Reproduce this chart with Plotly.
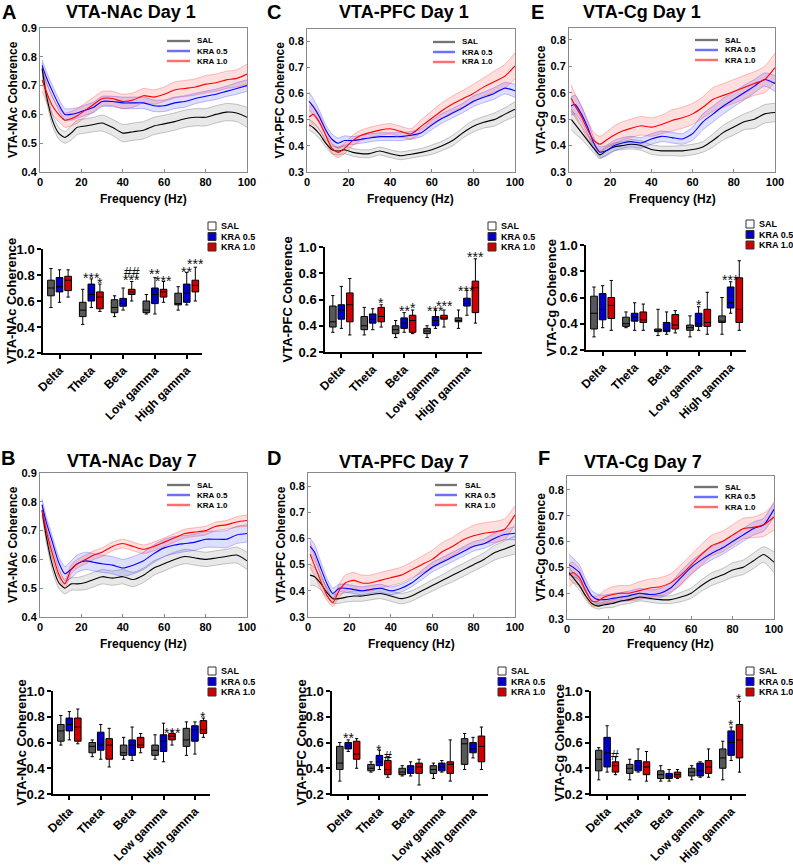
import plotly.graph_objects as go

W, H = 793, 866
FONT = "Arial, Liberation Sans, Helvetica, sans-serif"

# ---------------- data ----------------
SERIES = ["SAL", "KRA 0.5", "KRA 1.0"]
BANDS = ["Delta", "Theta", "Beta", "Low gamma", "High gamma"]
FREQ = [1, 3, 6, 9, 12, 15, 18, 22, 26, 30, 35, 40, 45, 50, 55, 60, 65, 70, 75, 80, 85, 90, 95, 100]
FREQ_TICKS = [0, 20, 40, 60, 80, 100]

# Panel A: VTA-NAc Day 1 (mean, SEM)
A_SAL = [0.76, 0.67, 0.58, 0.535, 0.52, 0.535, 0.555, 0.56, 0.565, 0.57, 0.555, 0.535, 0.54, 0.545, 0.56, 0.567, 0.575, 0.585, 0.59, 0.59, 0.60, 0.608, 0.605, 0.59]
A_SAL_SEM = [0.02, 0.02, 0.02, 0.02, 0.02, 0.025, 0.025, 0.025, 0.025, 0.028, 0.028, 0.03, 0.03, 0.03, 0.03, 0.03, 0.03, 0.03, 0.03, 0.03, 0.03, 0.03, 0.03, 0.035]
A_K05 = [0.77, 0.73, 0.68, 0.635, 0.60, 0.60, 0.605, 0.615, 0.625, 0.645, 0.645, 0.64, 0.64, 0.64, 0.63, 0.63, 0.64, 0.645, 0.655, 0.663, 0.67, 0.68, 0.69, 0.70]
A_K05_SEM = [0.02, 0.02, 0.02, 0.02, 0.02, 0.02, 0.018, 0.018, 0.018, 0.018, 0.018, 0.02, 0.02, 0.02, 0.02, 0.02, 0.02, 0.02, 0.018, 0.018, 0.018, 0.018, 0.02, 0.02]
A_K10 = [0.72, 0.68, 0.63, 0.60, 0.58, 0.585, 0.595, 0.615, 0.635, 0.655, 0.655, 0.645, 0.65, 0.665, 0.66, 0.67, 0.685, 0.69, 0.695, 0.705, 0.71, 0.72, 0.725, 0.74]
A_K10_SEM = [0.04, 0.035, 0.03, 0.025, 0.025, 0.025, 0.025, 0.025, 0.025, 0.025, 0.025, 0.025, 0.025, 0.025, 0.025, 0.025, 0.028, 0.028, 0.028, 0.03, 0.03, 0.03, 0.03, 0.035]

# Panel B: VTA-NAc Day 7
B_SAL = [0.77, 0.68, 0.58, 0.52, 0.50, 0.515, 0.515, 0.52, 0.53, 0.54, 0.535, 0.54, 0.53, 0.545, 0.57, 0.585, 0.60, 0.61, 0.605, 0.60, 0.605, 0.61, 0.615, 0.595]
B_SAL_SEM = [0.02, 0.02, 0.02, 0.02, 0.02, 0.022, 0.022, 0.025, 0.025, 0.025, 0.025, 0.025, 0.025, 0.025, 0.025, 0.025, 0.025, 0.025, 0.025, 0.025, 0.025, 0.025, 0.028, 0.03]
B_K05 = [0.79, 0.73, 0.66, 0.59, 0.55, 0.565, 0.585, 0.595, 0.59, 0.585, 0.58, 0.57, 0.58, 0.595, 0.62, 0.64, 0.65, 0.655, 0.66, 0.67, 0.67, 0.67, 0.685, 0.69]
B_K05_SEM = [0.02, 0.02, 0.02, 0.02, 0.025, 0.03, 0.03, 0.03, 0.03, 0.03, 0.03, 0.03, 0.03, 0.03, 0.03, 0.03, 0.03, 0.028, 0.028, 0.028, 0.028, 0.03, 0.03, 0.03]
B_K10 = [0.77, 0.70, 0.62, 0.55, 0.515, 0.565, 0.585, 0.60, 0.615, 0.625, 0.645, 0.655, 0.645, 0.635, 0.645, 0.66, 0.675, 0.69, 0.695, 0.70, 0.715, 0.72, 0.73, 0.735]
B_K10_SEM = [0.015, 0.015, 0.015, 0.015, 0.015, 0.015, 0.015, 0.015, 0.015, 0.015, 0.015, 0.015, 0.015, 0.015, 0.015, 0.015, 0.015, 0.015, 0.015, 0.015, 0.015, 0.015, 0.018, 0.02]

# Panel C: VTA-PFC Day 1
C_SAL = [0.48, 0.47, 0.445, 0.41, 0.385, 0.38, 0.385, 0.375, 0.37, 0.37, 0.38, 0.37, 0.362, 0.368, 0.375, 0.385, 0.40, 0.42, 0.45, 0.475, 0.49, 0.50, 0.52, 0.54]
C_SAL_SEM = [0.02, 0.02, 0.018, 0.015, 0.015, 0.015, 0.015, 0.015, 0.015, 0.015, 0.015, 0.015, 0.015, 0.015, 0.015, 0.018, 0.018, 0.02, 0.02, 0.022, 0.022, 0.025, 0.025, 0.028]
C_K05 = [0.57, 0.55, 0.51, 0.46, 0.425, 0.41, 0.42, 0.42, 0.425, 0.43, 0.435, 0.435, 0.435, 0.44, 0.45, 0.48, 0.505, 0.525, 0.545, 0.57, 0.585, 0.60, 0.62, 0.61]
C_K05_SEM = [0.035, 0.03, 0.025, 0.02, 0.02, 0.02, 0.018, 0.015, 0.015, 0.015, 0.015, 0.015, 0.015, 0.015, 0.015, 0.018, 0.018, 0.018, 0.018, 0.02, 0.02, 0.022, 0.022, 0.025]
C_K10 = [0.51, 0.52, 0.49, 0.44, 0.39, 0.375, 0.39, 0.42, 0.44, 0.45, 0.46, 0.465, 0.455, 0.445, 0.475, 0.505, 0.535, 0.56, 0.58, 0.60, 0.625, 0.645, 0.665, 0.705]
C_K10_SEM = [0.04, 0.035, 0.03, 0.025, 0.02, 0.02, 0.02, 0.02, 0.02, 0.02, 0.02, 0.02, 0.02, 0.02, 0.025, 0.028, 0.03, 0.03, 0.032, 0.035, 0.035, 0.04, 0.045, 0.05]

# Panel D: VTA-PFC Day 7
D_SAL = [0.46, 0.455, 0.43, 0.395, 0.37, 0.37, 0.375, 0.38, 0.38, 0.385, 0.39, 0.38, 0.37, 0.38, 0.40, 0.42, 0.44, 0.46, 0.48, 0.50, 0.52, 0.545, 0.56, 0.575]
D_SAL_SEM = [0.04, 0.035, 0.025, 0.02, 0.018, 0.018, 0.018, 0.02, 0.02, 0.02, 0.02, 0.02, 0.02, 0.02, 0.02, 0.022, 0.022, 0.025, 0.025, 0.025, 0.025, 0.028, 0.03, 0.035]
D_K05 = [0.57, 0.55, 0.49, 0.43, 0.39, 0.41, 0.41, 0.405, 0.40, 0.405, 0.41, 0.40, 0.41, 0.43, 0.46, 0.49, 0.51, 0.53, 0.55, 0.57, 0.58, 0.60, 0.615, 0.62]
D_K05_SEM = [0.03, 0.03, 0.025, 0.02, 0.02, 0.015, 0.015, 0.015, 0.015, 0.015, 0.015, 0.015, 0.015, 0.015, 0.018, 0.018, 0.018, 0.018, 0.018, 0.018, 0.018, 0.02, 0.02, 0.025]
D_K10 = [0.54, 0.50, 0.44, 0.385, 0.355, 0.40, 0.43, 0.44, 0.43, 0.43, 0.44, 0.45, 0.46, 0.48, 0.50, 0.52, 0.55, 0.57, 0.595, 0.61, 0.62, 0.625, 0.635, 0.69]
D_K10_SEM = [0.05, 0.04, 0.03, 0.02, 0.015, 0.025, 0.03, 0.03, 0.03, 0.03, 0.03, 0.03, 0.03, 0.03, 0.032, 0.035, 0.035, 0.035, 0.035, 0.04, 0.04, 0.04, 0.04, 0.035]

# Panel E: VTA-Cg Day 1
E_SAL = [0.50, 0.48, 0.45, 0.42, 0.39, 0.365, 0.38, 0.395, 0.40, 0.405, 0.40, 0.385, 0.38, 0.38, 0.38, 0.385, 0.395, 0.42, 0.45, 0.47, 0.49, 0.50, 0.52, 0.525]
E_SAL_SEM = [0.04, 0.035, 0.025, 0.02, 0.018, 0.015, 0.015, 0.015, 0.015, 0.018, 0.018, 0.018, 0.018, 0.018, 0.02, 0.02, 0.02, 0.025, 0.028, 0.03, 0.03, 0.035, 0.035, 0.035]
E_K05 = [0.55, 0.555, 0.52, 0.47, 0.41, 0.375, 0.38, 0.40, 0.41, 0.415, 0.41, 0.425, 0.435, 0.43, 0.425, 0.445, 0.49, 0.52, 0.55, 0.575, 0.60, 0.625, 0.65, 0.635]
E_K05_SEM = [0.035, 0.035, 0.03, 0.025, 0.02, 0.02, 0.02, 0.02, 0.02, 0.02, 0.02, 0.02, 0.02, 0.02, 0.02, 0.025, 0.03, 0.03, 0.03, 0.028, 0.028, 0.025, 0.025, 0.03]
E_K10 = [0.58, 0.55, 0.51, 0.46, 0.42, 0.405, 0.42, 0.44, 0.455, 0.465, 0.475, 0.47, 0.48, 0.495, 0.505, 0.52, 0.545, 0.575, 0.59, 0.605, 0.62, 0.635, 0.65, 0.695]
E_K10_SEM = [0.05, 0.045, 0.04, 0.035, 0.03, 0.03, 0.03, 0.035, 0.035, 0.035, 0.035, 0.035, 0.035, 0.04, 0.04, 0.04, 0.04, 0.045, 0.045, 0.045, 0.045, 0.045, 0.05, 0.055]

# Panel F: VTA-Cg Day 7
F_SAL = [0.48, 0.46, 0.43, 0.39, 0.36, 0.35, 0.355, 0.36, 0.37, 0.375, 0.385, 0.38, 0.375, 0.375, 0.385, 0.40, 0.43, 0.455, 0.47, 0.49, 0.50, 0.525, 0.55, 0.52]
F_SAL_SEM = [0.02, 0.02, 0.018, 0.015, 0.012, 0.012, 0.012, 0.015, 0.015, 0.015, 0.015, 0.015, 0.015, 0.015, 0.018, 0.02, 0.022, 0.025, 0.025, 0.028, 0.028, 0.03, 0.03, 0.04]
F_K05 = [0.51, 0.50, 0.48, 0.43, 0.39, 0.375, 0.375, 0.38, 0.385, 0.39, 0.40, 0.395, 0.40, 0.42, 0.46, 0.50, 0.53, 0.555, 0.575, 0.60, 0.625, 0.65, 0.665, 0.725]
F_K05_SEM = [0.04, 0.035, 0.03, 0.025, 0.02, 0.02, 0.018, 0.018, 0.018, 0.018, 0.018, 0.018, 0.018, 0.02, 0.025, 0.025, 0.025, 0.025, 0.025, 0.025, 0.025, 0.025, 0.025, 0.03]
F_K10 = [0.47, 0.48, 0.46, 0.41, 0.37, 0.37, 0.385, 0.395, 0.40, 0.40, 0.41, 0.42, 0.425, 0.44, 0.47, 0.51, 0.55, 0.585, 0.60, 0.625, 0.65, 0.655, 0.665, 0.695]
F_K10_SEM = [0.045, 0.04, 0.035, 0.025, 0.02, 0.02, 0.025, 0.03, 0.03, 0.03, 0.035, 0.035, 0.035, 0.035, 0.04, 0.04, 0.04, 0.04, 0.04, 0.04, 0.04, 0.04, 0.045, 0.05]

# Box plots: per band (lower whisker, Q1, median, Q3, upper whisker)
BOX_A_SAL = [(0.55, 0.64, 0.70, 0.76, 0.85), (0.42, 0.48, 0.53, 0.59, 0.69), (0.48, 0.51, 0.55, 0.61, 0.64), (0.50, 0.51, 0.53, 0.60, 0.65), (0.53, 0.57, 0.58, 0.66, 0.71)]
BOX_A_K05 = [(0.59, 0.67, 0.71, 0.78, 0.84), (0.55, 0.60, 0.65, 0.73, 0.77), (0.53, 0.56, 0.58, 0.62, 0.70), (0.50, 0.58, 0.65, 0.70, 0.78), (0.57, 0.59, 0.66, 0.73, 0.82)]
BOX_A_K10 = [(0.63, 0.68, 0.76, 0.79, 0.84), (0.52, 0.54, 0.63, 0.67, 0.73), (0.60, 0.65, 0.67, 0.69, 0.75), (0.59, 0.63, 0.67, 0.69, 0.75), (0.60, 0.67, 0.72, 0.76, 0.86)]

BOX_B_SAL = [(0.58, 0.61, 0.69, 0.74, 0.81), (0.49, 0.52, 0.57, 0.60, 0.62), (0.47, 0.50, 0.52, 0.58, 0.64), (0.47, 0.50, 0.54, 0.58, 0.66), (0.50, 0.57, 0.62, 0.71, 0.76)]
BOX_B_K05 = [(0.62, 0.69, 0.74, 0.79, 0.84), (0.47, 0.54, 0.58, 0.68, 0.74), (0.46, 0.50, 0.58, 0.62, 0.72), (0.45, 0.53, 0.61, 0.66, 0.75), (0.51, 0.61, 0.70, 0.73, 0.76)]
BOX_B_K10 = [(0.59, 0.61, 0.72, 0.79, 0.86), (0.41, 0.47, 0.58, 0.63, 0.71), (0.52, 0.56, 0.58, 0.64, 0.67), (0.58, 0.62, 0.65, 0.67, 0.69), (0.64, 0.67, 0.70, 0.77, 0.79)]

BOX_C_SAL = [(0.35, 0.39, 0.43, 0.55, 0.63), (0.33, 0.37, 0.40, 0.47, 0.54), (0.31, 0.34, 0.37, 0.40, 0.44), (0.31, 0.34, 0.36, 0.38, 0.40), (0.38, 0.43, 0.44, 0.46, 0.52)]
BOX_C_K05 = [(0.38, 0.45, 0.52, 0.56, 0.70), (0.37, 0.42, 0.45, 0.49, 0.53), (0.35, 0.38, 0.42, 0.46, 0.50), (0.38, 0.40, 0.44, 0.47, 0.52), (0.48, 0.55, 0.57, 0.61, 0.67)]
BOX_C_K10 = [(0.33, 0.43, 0.56, 0.65, 0.76), (0.39, 0.43, 0.47, 0.54, 0.56), (0.34, 0.35, 0.44, 0.48, 0.52), (0.39, 0.45, 0.46, 0.48, 0.52), (0.42, 0.50, 0.69, 0.74, 0.91)]

BOX_D_SAL = [(0.30, 0.39, 0.44, 0.57, 0.60), (0.37, 0.38, 0.40, 0.43, 0.45), (0.34, 0.35, 0.37, 0.40, 0.42), (0.32, 0.36, 0.39, 0.42, 0.44), (0.39, 0.43, 0.59, 0.63, 0.67)]
BOX_D_K05 = [(0.53, 0.55, 0.575, 0.60, 0.62), (0.39, 0.42, 0.45, 0.50, 0.54), (0.34, 0.36, 0.39, 0.42, 0.45), (0.37, 0.38, 0.41, 0.44, 0.46), (0.48, 0.52, 0.55, 0.60, 0.64)]
BOX_D_K10 = [(0.40, 0.47, 0.51, 0.61, 0.63), (0.33, 0.35, 0.39, 0.46, 0.49), (0.27, 0.36, 0.41, 0.44, 0.47), (0.30, 0.36, 0.43, 0.45, 0.62), (0.39, 0.45, 0.57, 0.65, 0.72)]

BOX_E_SAL = [(0.30, 0.36, 0.48, 0.61, 0.68), (0.37, 0.38, 0.40, 0.45, 0.49), (0.31, 0.34, 0.35, 0.36, 0.51), (0.30, 0.35, 0.37, 0.39, 0.46), (0.32, 0.41, 0.42, 0.46, 0.60)]
BOX_E_K05 = [(0.37, 0.43, 0.51, 0.63, 0.69), (0.35, 0.42, 0.45, 0.48, 0.56), (0.32, 0.34, 0.35, 0.41, 0.49), (0.35, 0.38, 0.40, 0.48, 0.53), (0.48, 0.52, 0.56, 0.68, 0.72)]
BOX_E_K10 = [(0.35, 0.44, 0.54, 0.60, 0.73), (0.35, 0.41, 0.43, 0.49, 0.55), (0.33, 0.36, 0.39, 0.47, 0.50), (0.32, 0.38, 0.41, 0.51, 0.64), (0.35, 0.41, 0.51, 0.75, 0.88)]

BOX_F_SAL = [(0.31, 0.38, 0.47, 0.54, 0.56), (0.31, 0.36, 0.40, 0.43, 0.47), (0.30, 0.32, 0.35, 0.38, 0.42), (0.31, 0.34, 0.37, 0.40, 0.42), (0.31, 0.40, 0.48, 0.55, 0.61)]
BOX_F_K05 = [(0.37, 0.41, 0.52, 0.64, 0.73), (0.37, 0.38, 0.42, 0.46, 0.55), (0.30, 0.32, 0.34, 0.36, 0.39), (0.33, 0.34, 0.38, 0.44, 0.45), (0.46, 0.50, 0.60, 0.69, 0.72)]
BOX_F_K10 = [(0.35, 0.37, 0.42, 0.45, 0.49), (0.30, 0.35, 0.41, 0.45, 0.53), (0.32, 0.33, 0.35, 0.37, 0.39), (0.33, 0.36, 0.41, 0.46, 0.55), (0.37, 0.48, 0.62, 0.74, 0.92)]

# significance marks: (band index, series index, y value, text)
SIG_A = [(1, 1, 0.80, "***"), (1, 2, 0.76, "*"), (2, 2, 0.785, "***"), (2, 2, 0.85, "##"), (3, 1, 0.83, "**"), (3, 2, 0.78, "***"), (4, 1, 0.85, "**"), (4, 2, 0.905, "***")]
SIG_B = [(3, 2, 0.70, "***"), (4, 2, 0.82, "*")]
SIG_C = [(1, 2, 0.60, "*"), (2, 1, 0.535, "**"), (2, 2, 0.555, "*"), (3, 1, 0.535, "***"), (3, 2, 0.575, "***"), (4, 1, 0.69, "***"), (4, 2, 0.95, "***")]
SIG_D = [(0, 1, 0.655, "**"), (1, 1, 0.565, "*"), (1, 2, 0.52, "#")]
SIG_E = [(3, 1, 0.565, "*"), (4, 1, 0.755, "***")]
SIG_F = [(0, 2, 0.53, "#"), (4, 1, 0.76, "*"), (4, 2, 0.96, "*")]

# ---------------- styling ----------------
LINE_COL = ["#000000", "#0000ff", "#ff0000"]
EDGE_COL = ["rgba(0,0,0,0.30)", "rgba(0,0,255,0.35)", "rgba(255,0,0,0.35)"]
FILL_COL = ["rgba(110,110,110,0.16)", "rgba(0,0,255,0.13)", "rgba(255,0,0,0.13)"]
BOX_FILL = ["#585858", "#0000c8", "#d00000"]
LEG_SQ = ["#ffffff", "#0000c8", "#d00000"]
OFFS = [-0.27, 0.0, 0.27]

LINE_PANELS = [
    dict(letter="A", title="VTA-NAc Day 1", ylab="VTA-NAc Coherence", yr=[0.4, 0.9], yt=[0.4, 0.5, 0.6, 0.7, 0.8, 0.9],
         data=[(A_SAL, A_SAL_SEM), (A_K05, A_K05_SEM), (A_K10, A_K10_SEM)],
         px=(40, 247, 28, 172), let=(9, 12), tit=(131, 12), ytx=13, fx=199, leg=(167, 190, 195, 41)),
    dict(letter="C", title="VTA-PFC Day 1", ylab="VTA-PFC Coherence", yr=[0.3, 0.846], yt=[0.3, 0.4, 0.5, 0.6, 0.7, 0.8],
         data=[(C_SAL, C_SAL_SEM), (C_K05, C_K05_SEM), (C_K10, C_K10_SEM)],
         px=(307, 515, 29, 172), let=(274, 12), tit=(404, 12), ytx=279, fx=199, leg=(433, 455, 460, 42)),
    dict(letter="E", title="VTA-Cg Day 1", ylab="VTA-Cg Coherence", yr=[0.3, 0.845], yt=[0.3, 0.4, 0.5, 0.6, 0.7, 0.8],
         data=[(E_SAL, E_SAL_SEM), (E_K05, E_K05_SEM), (E_K10, E_K10_SEM)],
         px=(569, 775, 28, 172), let=(537, 12), tit=(642, 12), ytx=541, fx=199, leg=(695, 718, 723, 40)),
    dict(letter="B", title="VTA-NAc Day 7", ylab="VTA-NAc Coherence", yr=[0.4, 0.9], yt=[0.4, 0.5, 0.6, 0.7, 0.8, 0.9],
         data=[(B_SAL, B_SAL_SEM), (B_K05, B_K05_SEM), (B_K10, B_K10_SEM)],
         px=(40, 247, 473, 617), let=(8, 458), tit=(132, 461), ytx=13, fx=644, leg=(167, 190, 195, 485)),
    dict(letter="D", title="VTA-PFC Day 7", ylab="VTA-PFC Coherence", yr=[0.3, 0.85], yt=[0.3, 0.4, 0.5, 0.6, 0.7, 0.8],
         data=[(D_SAL, D_SAL_SEM), (D_K05, D_K05_SEM), (D_K10, D_K10_SEM)],
         px=(308, 515, 473, 617), let=(274, 458), tit=(404, 462), ytx=281, fx=644, leg=(435, 457, 463, 485)),
    dict(letter="F", title="VTA-Cg Day 7", ylab="VTA-Cg Coherence", yr=[0.3, 0.854], yt=[0.3, 0.4, 0.5, 0.6, 0.7, 0.8],
         data=[(F_SAL, F_SAL_SEM), (F_K05, F_K05_SEM), (F_K10, F_K10_SEM)],
         px=(567, 774, 476, 619), let=(544, 458), tit=(643, 462), ytx=540, fx=644, leg=(694, 718, 723, 487)),
]

BOX_PANELS = [
    dict(ylab="VTA-NAc Coherence", data=[BOX_A_SAL, BOX_A_K05, BOX_A_K10], sig=SIG_A, px=(43, 202, 249, 353), ytx=12, leg=(208, 226)),
    dict(ylab="VTA-PFC Coherence", data=[BOX_C_SAL, BOX_C_K05, BOX_C_K10], sig=SIG_C, px=(325, 482, 247, 352), ytx=287, leg=(488, 226)),
    dict(ylab="VTA-Cg Coherence", data=[BOX_E_SAL, BOX_E_K05, BOX_E_K10], sig=SIG_E, px=(586, 746, 245, 350), ytx=551, leg=(746, 224)),
    dict(ylab="VTA-NAc Coherence", data=[BOX_B_SAL, BOX_B_K05, BOX_B_K10], sig=SIG_B, px=(53, 210, 691, 794), ytx=21, leg=(208, 671)),
    dict(ylab="VTA-PFC Coherence", data=[BOX_D_SAL, BOX_D_K05, BOX_D_K10], sig=SIG_D, px=(332, 488, 691, 794), ytx=301, leg=(498, 671)),
    dict(ylab="VTA-Cg Coherence", data=[BOX_F_SAL, BOX_F_K05, BOX_F_K10], sig=SIG_F, px=(591, 746, 691, 794), ytx=559, leg=(746, 671)),
]


def xd(a, b):
    return [a / W, b / W]


def yd(t, b):
    return [1 - b / H, 1 - t / H]


def px_x(a):
    return a / W


def px_y(b):
    return 1 - b / H


fig = go.Figure()
layout = {}
annotations = []
shapes = []

# ---------------- line panels ----------------
for i, p in enumerate(LINE_PANELS):
    n = i + 1
    xa, ya = f"x{n}", f"y{n}"
    l, r, t, b = p["px"]
    for s in range(3):
        m, e = p["data"][s]
        up = [a + c for a, c in zip(m, e)]
        lo = [a - c for a, c in zip(m, e)]
        fig.add_trace(go.Scatter(x=FREQ, y=up, mode="lines", line=dict(color=EDGE_COL[s], width=0.7, shape="spline", smoothing=0.6),
                                 xaxis=xa, yaxis=ya, showlegend=False, hoverinfo="skip"))
        fig.add_trace(go.Scatter(x=FREQ, y=lo, mode="lines", line=dict(color=EDGE_COL[s], width=0.7, shape="spline", smoothing=0.6),
                                 fill="tonexty", fillcolor=FILL_COL[s],
                                 xaxis=xa, yaxis=ya, showlegend=False, hoverinfo="skip"))
    for s in range(3):
        m, e = p["data"][s]
        fig.add_trace(go.Scatter(x=FREQ, y=m, mode="lines", line=dict(color=LINE_COL[s], width=1.1, shape="spline", smoothing=0.6),
                                 xaxis=xa, yaxis=ya, showlegend=False, name=SERIES[s]))
    key = "" if n == 1 else str(n)
    layout["xaxis" + key] = dict(domain=xd(l, r), anchor=ya, range=[0, 100], tickvals=FREQ_TICKS, automargin=False,
                                 showline=True, mirror=True, linecolor="#8a8a8a", linewidth=1,
                                 ticks="inside", ticklen=3, tickcolor="#8a8a8a", showgrid=False, zeroline=False,
                                 tickfont=dict(family=FONT, size=11, color="black", weight="bold"))
    layout["yaxis" + key] = dict(domain=yd(t, b), anchor=xa, range=p["yr"], tickvals=p["yt"], tickformat=".1f",
                                 automargin=False,
                                 showline=True, mirror=True, linecolor="#8a8a8a", linewidth=1,
                                 ticks="inside", ticklen=3, tickcolor="#8a8a8a", showgrid=False, zeroline=False,
                                 tickfont=dict(family=FONT, size=11, color="black", weight="bold"))
    # letter, title, axis titles
    annotations.append(dict(text=p["letter"], x=px_x(p["let"][0]), y=px_y(p["let"][1]), xref="paper", yref="paper",
                            showarrow=False, xanchor="center", yanchor="middle",
                            font=dict(family=FONT, size=20, color="black", weight="bold")))
    annotations.append(dict(text=p["title"], x=px_x(p["tit"][0]), y=px_y(p["tit"][1]), xref="paper", yref="paper",
                            showarrow=False, xanchor="center", yanchor="middle",
                            font=dict(family=FONT, size=18, color="black", weight="bold")))
    annotations.append(dict(text=p["ylab"], x=px_x(p["ytx"]), y=px_y((t + b) / 2), xref="paper", yref="paper",
                            showarrow=False, xanchor="center", yanchor="middle", textangle=-90,
                            font=dict(family=FONT, size=12, color="black", weight="bold")))
    annotations.append(dict(text="Frequency (Hz)", x=px_x((l + r) / 2), y=px_y(p["fx"]), xref="paper", yref="paper",
                            showarrow=False, xanchor="center", yanchor="middle",
                            font=dict(family=FONT, size=12, color="black", weight="bold")))
    # legend
    lx0, lx1, tx, ly = p["leg"]
    for s in range(3):
        yy = ly + 10 * s
        shapes.append(dict(type="rect", xref="paper", yref="paper", x0=px_x(lx0), x1=px_x(lx1),
                           y0=px_y(yy + 2), y1=px_y(yy - 2), fillcolor=FILL_COL[s], line=dict(width=0)))
        shapes.append(dict(type="line", xref="paper", yref="paper", x0=px_x(lx0), x1=px_x(lx1),
                           y0=px_y(yy), y1=px_y(yy), line=dict(color=LINE_COL[s], width=1)))
        annotations.append(dict(text=SERIES[s], x=px_x(tx), y=px_y(yy), xref="paper", yref="paper",
                                showarrow=False, xanchor="left", yanchor="middle",
                                font=dict(family=FONT, size=8, color="black", weight="bold")))

# ---------------- box panels ----------------
for j, p in enumerate(BOX_PANELS):
    n = j + 7
    xa, ya = f"x{n}", f"y{n}"
    l, r, t, b = p["px"]
    for s in range(3):
        d = p["data"][s]
        fig.add_trace(go.Box(
            x=[g + OFFS[s] for g in range(len(BANDS))],
            lowerfence=[v[0] for v in d], q1=[v[1] for v in d], median=[v[2] for v in d],
            q3=[v[3] for v in d], upperfence=[v[4] for v in d],
            width=0.21, whiskerwidth=0.5, fillcolor=BOX_FILL[s], line=dict(color="black", width=1),
            boxpoints=False, xaxis=xa, yaxis=ya, showlegend=False, name=SERIES[s], hoverinfo="skip"))
    layout["xaxis" + str(n)] = dict(domain=xd(l, r), anchor=ya, range=[-0.52, 4.48], automargin=False,
                                    tickvals=list(range(len(BANDS))), ticktext=BANDS, tickangle=-45,
                                    showline=True, linecolor="black", linewidth=1.5, ticks="outside", ticklen=4,
                                    tickwidth=1.5, tickcolor="black", showgrid=False, zeroline=False,
                                    tickfont=dict(family=FONT, size=12, color="black", weight="bold"))
    layout["yaxis" + str(n)] = dict(domain=yd(t, b), anchor=xa, range=[0.2, 1.0], tickvals=[0.2, 0.4, 0.6, 0.8, 1.0],
                                    tickformat=".1f", showline=True, linecolor="black", linewidth=1.5,
                                    automargin=False,
                                    ticks="outside", ticklen=4, tickwidth=1.5, tickcolor="black",
                                    showgrid=False, zeroline=False,
                                    tickfont=dict(family=FONT, size=13, color="black", weight="bold"))
    annotations.append(dict(text=p["ylab"], x=px_x(p["ytx"]), y=px_y((t + b) / 2), xref="paper", yref="paper",
                            showarrow=False, xanchor="center", yanchor="middle", textangle=-90,
                            font=dict(family=FONT, size=13, color="black", weight="bold")))
    for (g, s, yv, txt) in p["sig"]:
        annotations.append(dict(text=txt, x=g + OFFS[s], y=yv, xref=xa, yref=ya, showarrow=False,
                                xanchor="center", yanchor="middle", yshift=-3,
                                font=dict(family=FONT, size=14, color="#111111")))
    # legend squares
    sx, sy = p["leg"]
    for s in range(3):
        yy = sy + 10.5 * s
        shapes.append(dict(type="rect", xref="paper", yref="paper", x0=px_x(sx), x1=px_x(sx + 8),
                           y0=px_y(yy + 4), y1=px_y(yy - 4), fillcolor=LEG_SQ[s],
                           line=dict(color="#333333", width=1)))
        annotations.append(dict(text=SERIES[s], x=px_x(sx + 11), y=px_y(yy), xref="paper", yref="paper",
                                showarrow=False, xanchor="left", yanchor="middle",
                                font=dict(family=FONT, size=9, color="black", weight="bold")))

fig.update_layout(**layout)
fig.update_layout(width=W, height=H, margin=dict(l=0, r=0, t=0, b=0, autoexpand=False), paper_bgcolor="white",
                  plot_bgcolor="white", boxmode="overlay", annotations=annotations, shapes=shapes,
                  font=dict(family=FONT, color="black"))

fig.write_html("out.html", config={"displayModeBar": False},
               post_script="document.body.style.margin='0px';document.body.style.padding='0px';"
                           "document.documentElement.style.overflow='hidden';")
